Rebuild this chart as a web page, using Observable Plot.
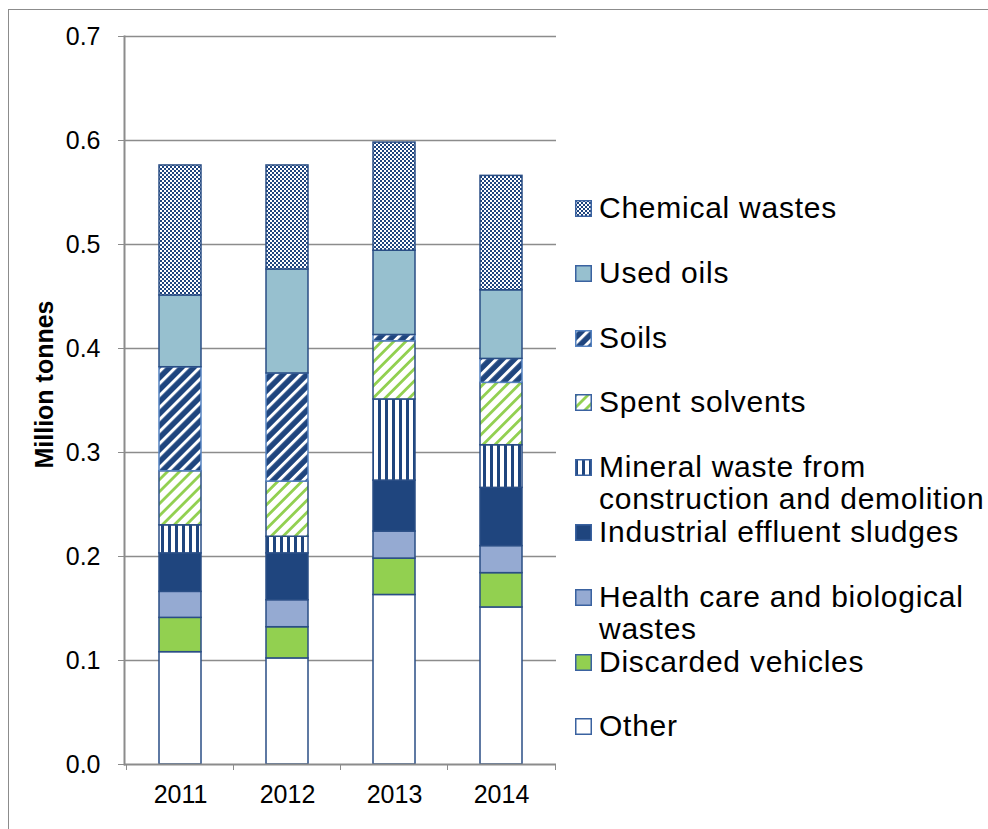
<!DOCTYPE html>
<html>
<head>
<meta charset="utf-8">
<script src="https://cdn.jsdelivr.net/npm/d3@7"></script>
<script src="https://cdn.jsdelivr.net/npm/@observablehq/plot@0.6"></script>
<style>
html, body { margin: 0; padding: 0; width: 988px; height: 829px; overflow: hidden; background: #fff; font-family: "Liberation Sans", Arial, sans-serif; }
#frame { position: absolute; left: 8px; top: 9px; width: 1100px; height: 1000px; border-left: 1.5px solid #8c8c8c; border-top: 1.5px solid #8c8c8c; }
#chart { position: absolute; left: 0; top: 0; }
.item { position: absolute; left: 575px; display: flex; align-items: flex-start; white-space: pre; font-size: 30px; line-height: 32px; letter-spacing: 0.75px; color: #000; }
.item svg { flex: none; margin-top: 8px; margin-right: 7px; }
</style>
</head>
<body>
<div id="frame"></div>
<div id="chart"></div>
<div id="legend"></div>
<script>
// ---- data ----
const years = ["2011", "2012", "2013", "2014"];
const categories = [
  "Other",
  "Discarded vehicles",
  "Health care and biological wastes",
  "Industrial effluent sludges",
  "Mineral waste from construction and demolition",
  "Spent solvents",
  "Soils",
  "Used oils",
  "Chemical wastes"
];
const legendLabels = [
  "Other",
  "Discarded vehicles",
  "Health care and biological\nwastes",
  "Industrial effluent sludges",
  "Mineral waste from\nconstruction and demolition",
  "Spent solvents",
  "Soils",
  "Used oils",
  "Chemical wastes"
];
const other      = [0.108, 0.102, 0.163, 0.151];
const discarded  = [0.033, 0.030, 0.035, 0.033];
const healthCare = [0.025, 0.026, 0.026, 0.026];
const industrial = [0.037, 0.045, 0.049, 0.056];
const mineral    = [0.027, 0.016, 0.078, 0.041];
const spent      = [0.052, 0.053, 0.056, 0.060];
const soils      = [0.100, 0.104, 0.006, 0.023];
const usedOils   = [0.069, 0.100, 0.081, 0.066];
const chemical   = [0.125, 0.100, 0.104, 0.110];
const yTicks = [0, 0.1, 0.2, 0.3, 0.4, 0.5, 0.6, 0.7];

// ---- styles ----
const navy = "#1f457e";
const green = "#92d050";
const gray = "#8c8c8c";
const fills = [
  "#ffffff", green, "#95aad2", navy, "url(#pat-mineral)",
  "url(#pat-spent)", "url(#pat-soils)", "#97c0cf", "url(#pat-chem)"
];
const strokes = [
  "#2a4e85", "#2a4e85", "#2a4e85", "#2a4e85", "#2a4e85",
  "#2a4e85", "#5582c0", "#2a4e85", "#2a4e85"
];

// pattern definitions
const defsSvg = document.createElementNS("http://www.w3.org/2000/svg", "svg");
defsSvg.setAttribute("width", 0);
defsSvg.setAttribute("height", 0);
defsSvg.style.position = "absolute";
defsSvg.innerHTML = `
<defs>
  <pattern id="pat-chem" width="4" height="4" patternUnits="userSpaceOnUse">
    <rect width="4" height="4" fill="#fff"/>
    <rect width="2" height="2" fill="${navy}"/>
    <rect x="2" y="2" width="2" height="2" fill="${navy}"/>
  </pattern>
  <pattern id="pat-soils" width="8.5" height="8.5" patternUnits="userSpaceOnUse" patternTransform="rotate(45)">
    <rect width="8.5" height="8.5" fill="${navy}"/>
    <rect width="3" height="8.5" fill="#fff"/>
  </pattern>
  <pattern id="pat-spent" width="8.5" height="8.5" patternUnits="userSpaceOnUse" patternTransform="rotate(45)">
    <rect width="8.5" height="8.5" fill="#fff"/>
    <rect width="2.8" height="8.5" fill="${green}"/>
  </pattern>
  <pattern id="pat-mineral" width="7" height="7" patternUnits="userSpaceOnUse">
    <rect width="7" height="7" fill="#fff"/>
    <rect width="3" height="7" fill="${navy}"/>
  </pattern>
</defs>`;
document.body.prepend(defsSvg);

const series = [other, discarded, healthCare, industrial, mineral, spent, soils, usedOils, chemical];
const fillOf = new Map(categories.map((c, i) => [c, fills[i]]));
const strokeOf = new Map(categories.map((c, i) => [c, strokes[i]]));
const table = categories.flatMap((c, i) => years.map((y, j) => ({year: y, category: c, value: series[i][j]})));

const chart = Plot.plot({
  width: 988,
  height: 829,
  marginLeft: 124,
  marginRight: 432,
  marginTop: 36,
  marginBottom: 65,
  x: {domain: years, paddingInner: 0.611, paddingOuter: 0.3056, axis: null, label: null},
  y: {domain: [0, 0.7], axis: null, label: null},
  color: {type: "identity"},
  style: {fontFamily: "Liberation Sans, Arial, sans-serif", fontSize: "25px", color: "#000", background: "transparent", overflow: "visible"},
  marks: [
    Plot.gridY(yTicks.filter(t => t > 0), {stroke: gray, strokeOpacity: 1, strokeWidth: 1.7}),
    Plot.barY(table, Plot.stackY({
      x: "year", y: "value",
      fill: d => fillOf.get(d.category),
      stroke: d => strokeOf.get(d.category),
      strokeWidth: 1.5
    })),
    Plot.ruleY([0], {stroke: gray, strokeWidth: 2}),
    Plot.frame({anchor: "left", stroke: gray, strokeWidth: 2}),
    Plot.axisY(yTicks, {label: null, tickSize: 6, tickPadding: 18, tickFormat: d3.format(".1f"), stroke: gray, strokeOpacity: 1, fill: "#000", fontSize: 25}),
    Plot.axisX(years, {label: null, tickSize: 0, tickPadding: 21, fill: "#000", fontSize: 25}),
    Plot.axisX(years, {label: null, tickSize: 6, tickFormat: () => "", dx: -54, stroke: gray, strokeOpacity: 1}),
    Plot.axisX([years[years.length - 1]], {label: null, tickSize: 6, tickFormat: () => "", dx: 54, stroke: gray, strokeOpacity: 1}),
    Plot.text(["Million tonnes"], {frameAnchor: "left", textAnchor: "middle", lineAnchor: "middle", rotate: -90, dx: -80, dy: -16, fontWeight: "bold", fontSize: 25, fill: "#000"})
  ]
});
document.getElementById("chart").append(chart);

// legend (top to bottom = reverse stack order)
const legend = document.getElementById("legend");
const order = categories.map((c, i) => i).reverse();
order.forEach((i, k) => {
  const item = document.createElement("div");
  item.className = "item";
  item.style.top = (192 + k * 64.8) + "px";
  item.innerHTML = `<svg width="17" height="17"><rect x="0.75" y="0.75" width="15.5" height="15.5" fill="${fills[i]}" stroke="${strokes[i] === "#2a4e85" ? "#3a62a0" : strokes[i]}" stroke-width="1.5"/></svg><span></span>`;
  item.querySelector("span").textContent = legendLabels[i];
  legend.append(item);
});
</script>
</body>
</html>
